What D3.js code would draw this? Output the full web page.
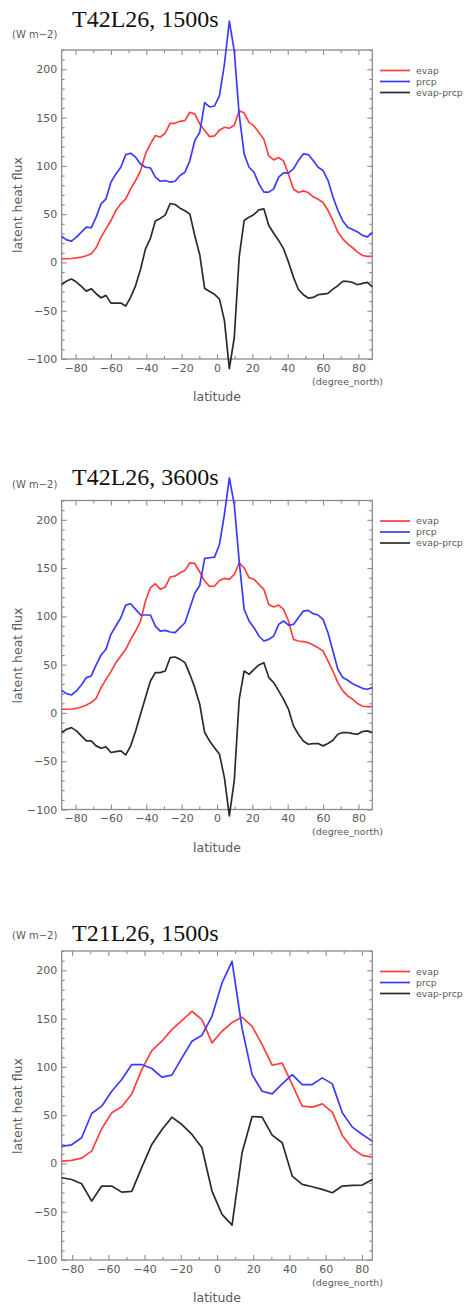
<!DOCTYPE html>
<html>
<head>
<meta charset="utf-8">
<script src="https://cdn.jsdelivr.net/npm/d3@7"></script>
<style>
  body { margin: 0; background: #fff; }
  svg { display: block; }
</style>
</head>
<body>
<svg id="chart"></svg>
<script>
const WIDTH = 467;
const HEIGHT = 1307;

const LEFT = 61.7;
const RIGHT = 372.3;
const PANEL_H = 309;

// gaussian latitudes
const LAT_T42 = [-87.86,-85.10,-82.31,-79.53,-76.74,-73.95,-71.16,-68.37,-65.58,-62.79,-60.00,-57.21,-54.42,-51.63,-48.84,-46.04,-43.25,-40.46,-37.67,-34.88,-32.09,-29.30,-26.51,-23.72,-20.93,-18.14,-15.35,-12.56,-9.77,-6.98,-4.19,-1.40,
  1.40,4.19,6.98,9.77,12.56,15.35,18.14,20.93,23.72,26.51,29.30,32.09,34.88,37.67,40.46,43.25,46.04,48.84,51.63,54.42,57.21,60.00,62.79,65.58,68.37,71.16,73.95,76.74,79.53,82.31,85.10,87.86];
const LAT_T21 = [-85.76,-80.27,-74.74,-69.21,-63.68,-58.14,-52.61,-47.07,-41.53,-36.00,-30.46,-24.92,-19.38,-13.84,-8.30,-2.77,
  2.77,8.30,13.84,19.38,24.92,30.46,36.00,41.53,47.07,52.61,58.14,63.68,69.21,74.74,80.27,85.76];

// T42L26, 1500s
const EVAP_A = [3.8,3.8,4.1,4.8,5.5,6.9,9,15.2,26.2,34.8,43.4,53.8,60.7,65.9,76.2,84.8,95.2,112.4,122.8,131.4,129.7,133.8,144.1,144.1,146.2,146.9,155.5,153.8,143.4,136.6,130.3,131,
  137,140,139,142,157,155,145,141.4,134.5,127.6,110.3,106.2,108.6,105.2,91.4,76,72.4,74.1,72.4,68,65.5,62,53.8,43.4,31.4,24.5,19.3,15.2,10.7,7.2,6.2,6.2];
const PRCP_A = [26.9,23.4,22.1,26.2,31.4,36.6,35.9,46.9,60.7,65.9,83.1,91.7,98.6,111.7,113.1,109,102,98.6,97.9,88.3,84.1,84.8,83.1,84.1,90,93.4,105.5,126.2,134.8,165.5,161,162,
  172.8,205,250,219,153,112.4,98.6,93.4,81.4,72.8,72.8,76.2,88.3,92.8,92.8,96.9,105.5,112.4,111.7,105.5,98.6,95.2,85,68,54,43,36.5,34,31.5,28,26.5,31];
const DIFF_A = [-22.8,-19.3,-17.2,-20.3,-24.8,-29.7,-27.2,-32.4,-36.6,-34.1,-42.1,-42.1,-42.1,-45.2,-36,-24,-7,14,25,43,45.6,49,61,60,56.2,53.5,50,27.6,8,-27,-30,-33,
  -38,-60,-110,-78,6,43.4,46.9,49.7,54.5,55.5,38.3,30.3,22.8,14.1,0.3,-15.2,-28,-33.4,-36.9,-36.2,-33.4,-32.8,-32.1,-27.6,-24.1,-19.7,-19.7,-20.7,-23.1,-21.7,-20.7,-25.2];

// T42L26, 3600s
const EVAP_B = [3.8,3.8,4.1,4.8,6.2,8.3,10.7,15.2,26.2,34.8,42.8,52.1,59,65.9,76.2,84.8,95.2,115.9,129.7,133.8,128,130.3,140.7,141.7,145.2,147.6,155.5,154.8,146,136.6,131,131.4,
  137.2,139.3,138.3,143.4,155.5,150.3,140,138.3,133.1,128,112.4,109.7,111.7,107.2,95.2,76.2,74.5,73.8,72.8,70.3,67.6,64.1,53.8,43.4,31.4,22.8,17.6,14.1,9.7,6.9,6.6,6.6];
const PRCP_B = [23.4,20,18.6,22.8,29,36.6,38.3,49.7,60,65.9,81.4,90,98.6,111.7,113.1,107.2,101.4,101.4,101.4,90,84.8,85.5,83.8,83.1,88.3,93.4,108.6,124,132,160,160.7,161.4,
  174.5,205.5,243.4,215.9,157.2,107.2,95.2,88.3,79.7,74.5,76.2,79.7,91.7,95.2,91,91.7,98.6,105.5,106.2,102.8,101.4,96.9,83.1,64.1,45.2,36.6,33.8,30.3,27.9,25.5,24.5,26.2];
const DIFF_B = [-20.3,-16.9,-15.2,-18.6,-23.8,-29,-29,-34.1,-36.6,-35.2,-41,-40,-39.3,-43.4,-34.1,-18.6,-1.4,15.9,33.1,41.7,41.7,43.4,57.2,57.9,55.5,52.1,40,26.2,9,-20.3,-29,-36,
  -42.8,-67,-106.6,-70,14,43.4,40,45.2,49.7,52,36.6,31.4,22.8,14.1,3.8,-13.4,-22.1,-29,-32.4,-31.7,-31.7,-34.1,-31.7,-28.3,-22.1,-20.3,-20.3,-21.4,-22.1,-19.3,-18.6,-20.3];

// T21L26, 1500s
const EVAP_C = [2.4,3.1,5.5,12.8,35.9,52.4,58.6,72,97.2,116.9,126.6,138.6,148,157.6,149,124.8,
  136.9,145.9,151.4,142,123,101.7,103.8,81.7,59.3,58.3,61.7,53.1,29,15.5,8.3,6.6];
const PRCP_C = [17.6,19.3,26.6,51.7,59.3,74.8,86.9,102.4,102.4,98.3,89.3,91.4,109.3,126.6,132.8,152.4,
  186.9,209.3,140,92,74.8,72,82.4,92,81.7,81.7,88.6,82.4,52.4,37.6,30,23.1];
const DIFF_C = [-14.8,-16.6,-21,-39,-23.4,-23.4,-29.7,-29,-4,19.7,34.8,47.9,40.3,30,16.2,-28.6,
  -52.8,-63.8,11,48.6,47.9,29.3,21.4,-13.1,-21.7,-24.1,-26.9,-30.3,-23.4,-22.8,-22.4,-16.6];

const X_TICKS = [-80, -60, -40, -20, 0, 20, 40, 60, 80];
const X_MINOR = [-90, -70, -50, -30, -10, 10, 30, 50, 70, 90];
const Y_TICKS = [-100, -50, 0, 50, 100, 150, 200];
const Y_MINOR = d3.range(-90, 221, 10).filter((v) => v % 50 != 0);
const Y_DOMAIN = [-100, 220];

const SERIES = ["evap", "prcp", "evap-prcp"];
const COLORS = ["#ff3f3f", "#3b3bff", "#2b2b2b"];

const panels = [
  { title: "T42L26, 1500s", top: 50, titleY: 27, lat: LAT_T42, values: [EVAP_A, PRCP_A, DIFF_A] },
  { title: "T42L26, 3600s", top: 500.5, titleY: 484.5, lat: LAT_T42, values: [EVAP_B, PRCP_B, DIFF_B] },
  { title: "T21L26, 1500s", top: 951, titleY: 941, lat: LAT_T21, values: [EVAP_C, PRCP_C, DIFF_C] },
];

const svg = d3.select("#chart").attr("width", WIDTH).attr("height", HEIGHT);
svg.append("rect").attr("width", WIDTH).attr("height", HEIGHT).attr("fill", "#fff");

const AXIS_COLOR = "#8c8c8c";
const TEXT_COLOR = "#5a5a5a";

const styleAxis = (g) => {
  g.select(".domain").remove();
  g.selectAll("line").attr("stroke", AXIS_COLOR).attr("stroke-width", 1.1);
  g.selectAll("text")
    .attr("fill", TEXT_COLOR)
    .style("font-family", "DejaVu Sans, sans-serif")
    .style("font-size", "11px");
};

const buildPanel = (p) => {
  const bottom = p.top + PANEL_H;
  const scaleX = d3
    .scaleLinear()
    .domain([p.lat[0], p.lat[p.lat.length - 1]])
    .range([LEFT, RIGHT]);
  const scaleY = d3.scaleLinear().domain(Y_DOMAIN).range([bottom, p.top]);

  const xMinor = X_MINOR.filter((v) => v > scaleX.domain()[0] && v < scaleX.domain()[1]);

  const g = svg.append("g");

  // axes, ticks point inward
  g.append("g")
    .attr("transform", `translate(0, ${bottom})`)
    .call(d3.axisBottom(scaleX).tickValues(X_TICKS).tickSize(-5).tickPadding(5))
    .call(styleAxis);
  g.append("g")
    .attr("transform", `translate(0, ${bottom})`)
    .call(d3.axisBottom(scaleX).tickValues(xMinor).tickSize(-3).tickFormat(""))
    .call(styleAxis);
  g.append("g")
    .attr("transform", `translate(0, ${p.top})`)
    .call(d3.axisTop(scaleX).tickValues(X_TICKS).tickSize(-5).tickFormat(""))
    .call(styleAxis);
  g.append("g")
    .attr("transform", `translate(0, ${p.top})`)
    .call(d3.axisTop(scaleX).tickValues(xMinor).tickSize(-3).tickFormat(""))
    .call(styleAxis);
  g.append("g")
    .attr("transform", `translate(${LEFT}, 0)`)
    .call(d3.axisLeft(scaleY).tickValues(Y_TICKS).tickSize(-5).tickPadding(4.5))
    .call(styleAxis);
  g.append("g")
    .attr("transform", `translate(${LEFT}, 0)`)
    .call(d3.axisLeft(scaleY).tickValues(Y_MINOR).tickSize(-3).tickFormat(""))
    .call(styleAxis);
  g.append("g")
    .attr("transform", `translate(${RIGHT}, 0)`)
    .call(d3.axisRight(scaleY).tickValues(Y_TICKS).tickSize(-5).tickFormat(""))
    .call(styleAxis);
  g.append("g")
    .attr("transform", `translate(${RIGHT}, 0)`)
    .call(d3.axisRight(scaleY).tickValues(Y_MINOR).tickSize(-3).tickFormat(""))
    .call(styleAxis);

  g.append("rect")
    .attr("x", LEFT)
    .attr("y", p.top)
    .attr("width", RIGHT - LEFT)
    .attr("height", PANEL_H)
    .attr("fill", "none")
    .attr("stroke", AXIS_COLOR)
    .attr("stroke-width", 1.3);

  // lines (not clipped, like the original)
  p.values.forEach((vals, i) => {
    const lineF = d3
      .line()
      .x((d, j) => scaleX(p.lat[j]))
      .y((d) => scaleY(d));
    g.append("path")
      .datum(vals)
      .attr("d", lineF)
      .attr("fill", "none")
      .attr("stroke", COLORS[i])
      .attr("stroke-width", 1.7)
      .attr("stroke-linejoin", "round");
  });

  // legend
  SERIES.forEach((name, i) => {
    const ly = p.top + 20.5 + i * 11;
    g.append("line")
      .attr("x1", 380).attr("x2", 410)
      .attr("y1", ly).attr("y2", ly)
      .attr("stroke", COLORS[i])
      .attr("stroke-width", 1.7);
    g.append("text")
      .attr("x", 416).attr("y", ly + 3.3)
      .attr("fill", TEXT_COLOR)
      .style("font-family", "DejaVu Sans, sans-serif")
      .style("font-size", "9.3px")
      .text(name);
  });

  // labels
  g.append("text")
    .attr("x", 12).attr("y", p.top - 12.5)
    .attr("fill", TEXT_COLOR)
    .style("font-family", "DejaVu Sans, sans-serif")
    .style("font-size", "10px")
    .text("(W m\u22122)");
  g.append("text")
    .attr("transform", `translate(21.5, ${p.top + 155}) rotate(-90)`)
    .attr("text-anchor", "middle")
    .attr("fill", TEXT_COLOR)
    .style("font-family", "DejaVu Sans, sans-serif")
    .style("font-size", "12.5px")
    .text("latent heat flux");
  g.append("text")
    .attr("x", 383).attr("y", bottom + 25.5)
    .attr("text-anchor", "end")
    .attr("fill", TEXT_COLOR)
    .style("font-family", "DejaVu Sans, sans-serif")
    .style("font-size", "9.5px")
    .text("(degree_north)");
  g.append("text")
    .attr("x", 217).attr("y", bottom + 42)
    .attr("text-anchor", "middle")
    .attr("fill", TEXT_COLOR)
    .style("font-family", "DejaVu Sans, sans-serif")
    .style("font-size", "12.5px")
    .text("latitude");

  g.append("text")
    .attr("x", 72).attr("y", p.titleY)
    .attr("fill", "#111")
    .style("font-family", "Liberation Serif, serif")
    .style("font-size", "24px")
    .text(p.title);
};

panels.forEach(buildPanel);
</script>
</body>
</html>
